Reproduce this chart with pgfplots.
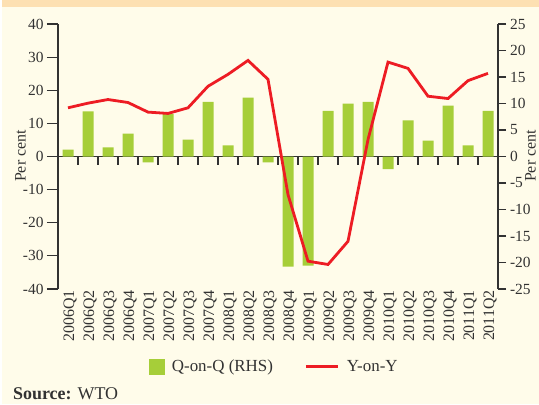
\documentclass[border=0pt]{standalone}
\usepackage{fontspec}
\setmainfont{Liberation Serif}
\usepackage{pgfplots}
\pgfplotsset{compat=1.18}
\definecolor{cream}{RGB}{255,252,234}
\definecolor{peach}{RGB}{253,224,178}
\definecolor{bargreen}{RGB}{166,206,57}
\definecolor{linered}{RGB}{237,28,36}
\definecolor{axisgray}{RGB}{50,50,50}
\begin{document}
\begin{tikzpicture}[x=1bp,y=1bp]
\useasboundingbox (0,0) rectangle (539,404);
\fill[cream] (0,0) rectangle (539,404);
\fill[peach] (0,397) rectangle (539,404);
\fill[white] (0,0) rectangle (1.7,404);
% right axis: bars
\begin{axis}[
  at={(58bp,115bp)}, anchor=south west,
  scale only axis, width=440bp, height=265bp,
  xmin=-0.5, xmax=21.5, ymin=-25, ymax=25,
  axis y line*=right, axis x line*=middle,
  axis line style={axisgray, line width=1.3bp, -},
  every tick/.style={axisgray, line width=1.2bp},
  xtick={0.5,1.5,...,20.5}, xticklabels={},
  xtick align=outside, ytick align=outside,
  major tick length=8bp,
  ytick={-25,-20,-15,-10,-5,0,5,10,15,20,25},
  yticklabels={-25,-20,-15,-10,-5,0,5,10,15,20,25},
  tick label style={font=\fontsize{15.5}{15.5}\selectfont, text=axisgray},
  yticklabel style={xshift=0.5bp},
  clip=false,
]
\addplot[ybar, bar width=11bp, bar shift=0pt, fill=bargreen, draw=none] coordinates {
(0,1.3) (1,8.5) (2,1.7) (3,4.3) (4,-1.1) (5,8.0) (6,3.2) (7,10.3) (8,2.1) (9,11.1)
(10,-1.1) (11,-20.8) (12,-20.6) (13,8.6) (14,10.0) (15,10.3) (16,-2.4) (17,6.8)
(18,3.0) (19,9.6) (20,2.1) (21,8.6)};
\end{axis}
% left axis: line
\begin{axis}[
  at={(58bp,115bp)}, anchor=south west,
  scale only axis, width=440bp, height=265bp,
  xmin=-0.5, xmax=21.5, ymin=-40, ymax=40,
  axis y line*=left, axis x line*=bottom,
  x axis line style={draw=none},
  y axis line style={axisgray, line width=1.3bp, -},
  ytick={-40,-30,...,40},
  yticklabels={-40,-30,-20,-10,0,10,20,30,40},
  ytick align=outside,
  major tick length=11bp,
  every tick/.style={axisgray, line width=1.2bp},
  xtick={0,...,21},
  xtick style={draw=none},
  xticklabels={2006Q1,2006Q2,2006Q3,2006Q4,2007Q1,2007Q2,2007Q3,2007Q4,2008Q1,2008Q2,2008Q3,2008Q4,2009Q1,2009Q2,2009Q3,2009Q4,2010Q1,2010Q2,2010Q3,2010Q4,2011Q1,2011Q2},
  tick label style={font=\fontsize{15.5}{15.5}\selectfont, text=axisgray},
  xticklabel style={rotate=90, anchor=east, inner sep=1bp, yshift=-2bp, font=\fontsize{16}{16}\selectfont},
  legend style={at={(rel axis cs:0.2068,-0.293)}, anchor=west, draw=none, fill=none,
    inner sep=0pt, outer sep=0pt,
    font=\fontsize{17}{17}\selectfont, text=axisgray, legend columns=2,
    nodes={inner sep=0.5bp},
    /tikz/every odd column/.style={column sep=7bp},
    /tikz/every even column/.style={column sep=31bp}},
  legend image code/.code={\draw[#1] (0bp,0bp) -- (32bp,0bp);},
  clip=false,
]
\addlegendimage{legend image code/.code={\fill[bargreen] (0bp,-7.5bp) rectangle (15bp,7.5bp);}}
\addlegendentry{Q-on-Q (RHS)}
\addplot[linered, line width=2.8bp, mark=none] coordinates {
(0,14.7) (1,16.1) (2,17.2) (3,16.3) (4,13.4) (5,13.0) (6,14.7) (7,21.2) (8,24.8) (9,29.0)
(10,23.3) (11,-11.5) (12,-31.6) (13,-32.6) (14,-25.6) (15,5.1) (16,28.5) (17,26.6)
(18,18.2) (19,17.5) (20,22.9) (21,25.1)};
\addlegendentry{Y-on-Y}
\end{axis}
\node[rotate=90, inner sep=0, font=\fontsize{16}{16}\selectfont, text=axisgray] at (20.5,248) {Per cent};
\node[rotate=90, inner sep=0, font=\fontsize{16}{16}\selectfont, text=axisgray] at (530.5,248) {Per cent};
\node[anchor=base west, inner sep=0, font=\fontsize{18}{18}\selectfont, text=axisgray] at (13,5) {\textbf{Source:} WTO};
\end{tikzpicture}
\end{document}
